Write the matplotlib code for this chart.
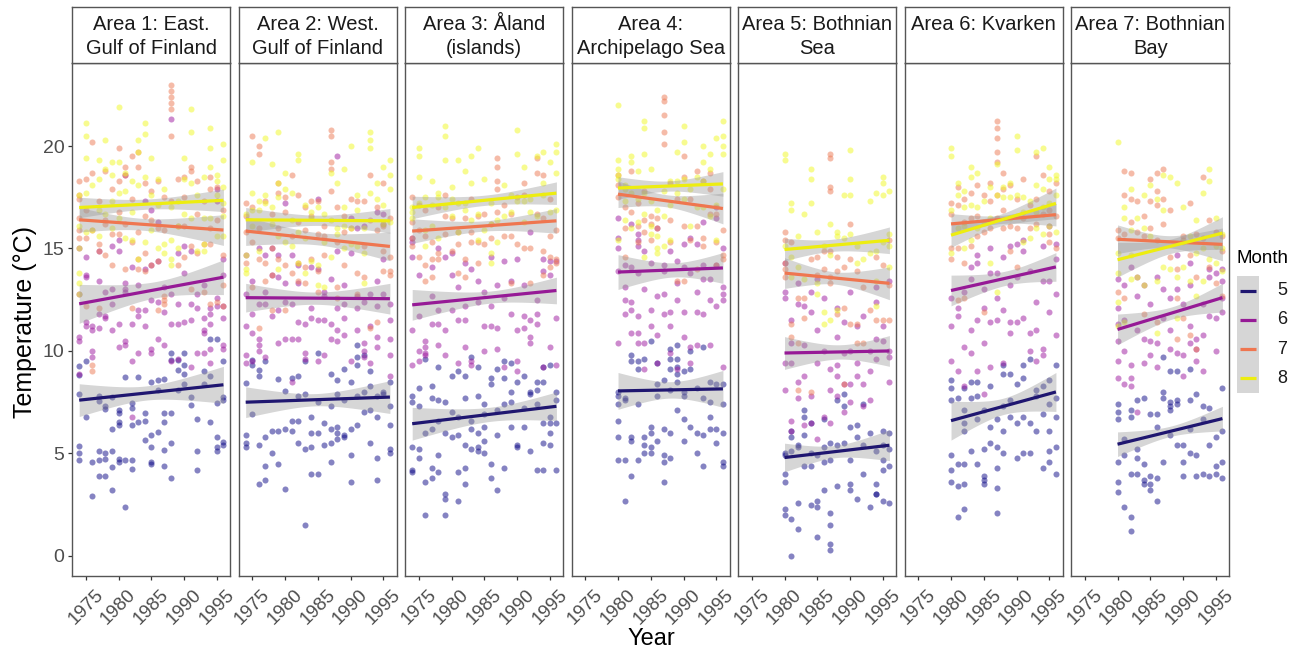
import numpy as np
import matplotlib
matplotlib.use("Agg")
import matplotlib.pyplot as plt
from matplotlib.patches import Rectangle

plt.rcParams['font.family'] = ['Liberation Sans', 'DejaVu Sans']

# ---------------- data ----------------
AREAS = ["Area 1: East.\nGulf of Finland", "Area 2: West.\nGulf of Finland",
         "Area 3: Åland\n(islands)", "Area 4:\nArchipelago Sea",
         "Area 5: Bothnian\nSea", "Area 6: Kvarken", "Area 7: Bothnian\nBay"]
MONTHS = [5, 6, 7, 8]
MONTH_COLORS = ["#0D0887", "#9C179E", "#ED7953", "#F0F921"]
LINE_COLORS = ["#1f1670", "#961a96", "#EF7650", "#EDED10"]
FIRST_YEAR = [1974, 1974, 1974, 1980, 1980, 1980, 1980]
LAST_YEAR = 1996
X_TICKS = [1975, 1980, 1985, 1990, 1995]
Y_TICKS = [0, 5, 10, 15, 20]

# temperatures per year (one sub-list per year, starting at FIRST_YEAR)
A1_M5 = [[7.9, 5.35, 5.0, 4.7, 9.25, 8.85], [6.8, 9.5], [4.6, 2.9], [5.1, 4.7, 3.9, 7.8, 7.55],
         [5.0, 4.75, 3.9, 7.15, 7.3], [5.1, 4.35, 3.2, 6.2, 7.75], [4.75, 4.6, 6.55, 6.4, 7.1, 6.95],
         [2.4, 4.7, 8.75], [4.7, 4.25, 7.2, 6.4, 7.45], [6.55, 8.75], [5.65, 6.6, 6.95],
         [5.9, 5.3, 4.6, 4.5, 8.5], [6.05, 8.6, 8.1], [5.15, 4.4, 6.55, 6.95, 8.65],
         [3.8, 5.5, 6.95, 9.55, 9.9], [9.05, 9.55, 8.1], [9.9, 9.3, 8.9, 8.4], [7.75, 7.35],
         [4.2, 5.1, 6.7], [9.0, 8.4], [6.55, 10.6, 8.8], [5.8, 5.3, 5.1, 10.6, 7.45],
         [5.55, 5.4, 9.5, 7.75, 7.6]]
A1_M6 = [[10.5, 10.7, 8.9, 12.8, 15.0], [13.6, 13.7, 11.4, 11.2, 14.6], [11.0, 11.2, 10.0, 9.7],
         [13.4, 11.8, 11.1, 14.9], [11.6, 11.7, 12.9], [11.0, 13.0, 12.3, 15.1], [11.3, 10.2, 14.9, 15.4],
         [10.5, 10.3, 13.3, 13.0, 12.9, 18.6], [11.3, 9.5, 6.8, 14.1], [9.9, 13.2, 12.0, 11.7],
         [12.0, 11.2, 14.0, 17.3], [14.2, 12.5, 10.1, 9.9, 16.9], [10.6, 14.4, 12.4, 16.3],
         [10.3, 11.9, 13.1], [21.3, 11.3, 9.5, 12.8], [11.3, 9.6, 12.3, 14.8], [13.8, 11.4, 15.1],
         [9.2, 12.3, 11.5, 14.9], [12.1, 9.9, 12.8], [11.6, 11.0, 10.9, 9.9, 13.2],
         [11.3, 11.8, 12.1, 9.4, 10.1], [12.2, 12.6, 17.3, 17.9], [10.3, 10.1, 11.6, 12.2, 13.7, 14.5]]
A1_M7 = [[18.3, 17.6, 16.5, 15.5, 15.9, 17.4], [18.4, 15.5, 16.9, 12.2], [20.2, 18.7, 15.9, 9.3, 9.0],
         [17.3, 15.2, 14.9, 12.1], [18.8, 16.4, 16.2, 14.7], [17.9, 15.7, 14.2], [19.9, 18.3, 16.8, 15.7],
         [19.0, 18.6, 16.2, 14.0], [19.5, 17.4, 15.3, 12.1], [19.7, 19.0, 15.8, 14.5, 14.0],
         [18.2, 16.6, 14.8, 13.9], [17.8, 16.4, 14.2], [18.3, 16.0, 14.4, 12.0],
         [17.5, 15.9, 12.3, 12.5, 12.7], [23.0, 22.7, 22.4, 22.1, 21.8, 20.5, 17.3], [18.4, 16.1, 14.2],
         [18.5, 17.5, 16.1, 14.6], [19.0, 18.8, 15.1, 13.0], [18.3, 16.7, 14.8], [17.3, 15.2, 12.9],
         [18.5, 17.9, 16.0, 15.2, 12.3], [18.0, 16.4, 12.4], [16.9, 14.7, 13.2, 12.2]]
A1_M8 = [[17.6, 15.0, 13.8, 13.3, 12.8, 16.1], [21.1, 20.5, 19.4, 17.7, 15.8], [18.1, 15.9],
         [19.3, 18.4, 16.9, 15.6], [20.3, 18.9, 16.7], [19.2, 18.6, 17.3, 16.0], [21.9, 19.2, 17.7, 16.5],
         [18.7, 17.8, 15.5], [18.3, 16.8, 15.4], [20.3, 19.7, 18.1, 14.5], [21.1, 20.6, 15.3, 18.5],
         [19.4, 17.6, 15.9], [18.4, 17.1, 15.0], [17.9, 15.2, 14.8], [17.0, 15.4, 14.5, 14.2],
         [17.3, 16.1, 15.0], [19.4, 18.4, 16.7], [21.8, 20.7, 18.2, 16.5], [17.6, 14.9],
         [18.5, 16.5, 15.2, 14.9], [20.9, 19.9, 19.0, 16.5], [18.6, 18.3, 17.6, 15.6],
         [20.1, 19.3, 18.0, 17.2, 16.6, 15.6]]

A2_M5 = [[8.45, 5.9, 5.5, 5.3], [6.9, 9.3, 9.55], [5.4, 3.5, 9.05, 8.8], [5.8, 4.4, 3.7, 9.5],
         [5.0, 6.1], [6.1, 4.5, 8.65], [3.25, 8.05, 6.2], [6.6, 6.1, 8.7], [7.8, 8.8, 6.6, 5.5],
         [1.5, 5.2, 7.9, 9.5], [5.3, 6.0, 6.8, 4.0], [4.0, 6.0, 7.5, 9.9], [5.4, 6.5],
         [6.2, 7.3, 5.5, 4.6, 8.9], [5.7, 6.0, 6.3, 7.9, 8.6], [5.8, 5.9, 7.6, 9.1], [6.2, 3.6, 4.9, 8.5],
         [6.4, 7.8, 9.3, 9.7, 10.3], [7.0, 8.0, 9.8], [9.0, 8.3, 5.5, 7.1], [7.8, 6.8, 4.8, 3.7],
         [8.0, 7.9], [8.5, 6.4, 5.0, 5.2, 7.3]]
A2_M6 = [[9.8, 9.4, 11.2, 12.8, 14.7], [11.8, 10.9, 9.5, 13.4], [10.0, 10.3, 10.6, 12.3, 15.0],
         [12.9, 12.3, 9.7, 14.7], [13.7, 11.7, 15.0], [14.7, 13.6, 12.0, 10.4], [10.6, 13.3, 12.4, 17.2],
         [8.5, 10.6, 12.3, 14.7], [11.4, 10.6, 13.3, 14.2], [9.6, 9.9, 11.3], [12.1, 11.6, 14.1],
         [14.0, 11.5, 9.5, 17.4], [12.7, 12.9, 9.8, 11.5], [11.3, 10.6, 13.5],
         [19.5, 14.9, 11.0, 10.5, 12.1], [10.8, 12.3, 11.6, 13.2], [14.8, 9.5, 16.5],
         [12.7, 12.1, 11.0, 16.0], [10.4, 10.0, 9.7, 12.4, 16.1], [9.4, 12.8, 11.2],
         [12.2, 10.2, 10.7, 13.4, 16.8], [12.8, 14.5, 16.2, 16.7], [12.3, 11.5, 10.6, 9.8, 8.8]]
A2_M7 = [[17.2, 16.6, 15.8, 14.3], [20.5, 17.0, 15.3, 13.1], [20.0, 19.6, 16.0, 14.5, 11.1],
         [17.3, 14.3, 13.4], [16.7, 15.0, 13.7, 12.0], [18.2, 17.7, 16.0, 14.5], [17.5, 16.8, 14.2, 12.0],
         [18.6, 15.6, 13.8], [17.6, 16.3, 14.3, 13.4], [17.0, 15.9, 14.1, 13.3], [17.3, 16.6, 14.5],
         [17.3, 15.7, 13.9, 12.9], [16.1, 15.6, 14.7], [20.8, 20.5, 19.2, 18.9, 17.8],
         [17.0, 15.3, 13.1, 12.6], [16.6, 15.8, 14.2], [17.4, 16.0], [17.3, 13.8, 12.8],
         [17.3, 15.1, 13.6], [18.6, 16.4, 11.1], [17.0, 15.9, 11.4], [18.2, 16.1, 14.9, 13.9],
         [16.5, 14.6, 13.9, 13.7]]
A2_M8 = [[16.7, 14.7, 14.0, 13.8], [19.2, 17.7, 16.1, 16.9], [17.3, 16.9, 14.9], [20.4, 17.6, 17.2],
         [19.1, 16.2, 17.0], [20.7, 18.2, 17.5, 15.6, 14.0], [18.7, 17.9, 15.3], [17.7, 16.4, 15.1],
         [19.3, 19.6, 15.8, 14.3], [17.1, 15.5, 13.8], [16.8, 16.5, 14.4], [17.0, 14.2, 13.2],
         [16.7, 15.3, 13.1], [18.7, 16.4, 14.6], [18.2, 16.0, 15.7], [18.9, 17.0, 16.1, 15.0],
         [20.0, 16.0, 15.2], [17.6, 16.9, 15.1], [16.0, 14.8, 13.3], [20.7, 20.3, 19.9, 17.7],
         [18.2, 17.4], [19.0, 17.1, 16.2], [19.3, 18.6, 17.9, 16.3]]

A3_M5 = [[5.3, 4.2, 4.1, 7.5, 7.8], [8.2, 5.2, 4.8, 7.3], [2.0, 3.6, 9.6, 6.0], [7.7, 6.2, 8.3, 4.3, 3.8],
         [7.6, 4.9, 4.1, 6.6, 9.2], [2.0, 2.8, 3.0, 6.0, 7.5], [5.8, 7.0, 8.8], [6.8, 5.9, 2.7, 4.1, 9.0],
         [7.7, 5.4, 4.3, 3.5, 8.8], [6.2, 5.2, 9.7, 6.6], [5.3, 5.1, 6.0, 7.8, 9.2],
         [5.0, 5.6, 6.9, 6.3, 7.4], [4.5, 3.8, 8.4, 8.7], [3.2, 7.1, 5.9, 9.1], [4.3, 7.4, 8.7, 9.5],
         [7.5, 8.0, 9.4, 6.3], [5.3, 5.4, 8.5], [7.2, 6.3, 8.8], [7.9, 8.0, 5.1], [4.2, 7.4, 8.1, 8.5],
         [4.2, 6.5, 5.5, 8.5, 9.2], [5.4, 6.0, 6.5, 6.8, 9.3], [4.2, 7.6, 6.5, 8.0]]
A3_M6 = [[11.0, 9.3, 15.5, 15.3, 14.6], [13.7, 11.7, 9.5, 10.0], [10.5, 10.2, 9.8, 9.9],
         [11.3, 12.7, 14.1], [15.0, 12.0, 11.3, 10.3], [14.6, 11.0, 9.8], [14.8, 12.0, 13.7],
         [13.1, 11.5, 9.4], [14.3, 12.2, 11.5, 10.2], [14.0, 9.5, 9.3], [13.4, 12.4],
         [12.9, 11.2, 10.0], [14.6, 12.2, 11.2], [13.2, 11.1, 10.1], [14.4, 12.6, 9.2], [13.4, 11.8],
         [14.5, 11.0, 9.5, 9.0], [13.2, 11.7, 11.1], [15.8, 11.5, 10.7, 10.4], [12.5, 11.8, 11.3],
         [14.5, 13.9, 9.2], [14.4, 13.7, 10.2], [14.4, 11.6, 9.3]]
A3_M7 = [[15.5, 15.1, 17.5, 16.3], [15.9, 14.6, 17.1], [15.6, 14.2, 13.4, 16.9], [15.3, 14.5, 13.6],
         [17.0, 14.5, 14.8], [17.6, 16.6, 15.7], [16.5, 14.9], [15.8, 13.8, 15.2], [16.5, 14.5, 13.6],
         [17.4, 15.8, 15.3], [16.6, 15.3, 14.3], [16.7, 15.2], [16.2, 15.5],
         [19.4, 19.0, 18.3, 17.9, 16.8], [17.1, 15.6], [16.7, 15.6, 13.3], [17.5, 15.2],
         [18.2, 17.6, 15.0], [15.0, 13.3], [19.4, 18.7, 16.7], [18.6, 16.5, 14.9, 13.7],
         [17.4, 15.6, 14.6, 14.1], [15.9, 14.5, 14.3]]
A3_M8 = [[16.5, 16.8, 17.0], [19.9, 19.5, 18.5, 17.2], [17.5, 15.9, 15.1], [18.3, 17.1, 16.1],
         [17.7, 17.5, 15.5], [21.0, 20.5, 19.3, 17.0], [18.0, 17.4, 16.6], [19.3, 17.2, 15.8],
         [18.8, 17.2, 16.9], [19.5, 18.2, 16.4], [19.9, 16.7, 15.4], [18.4, 15.9],
         [17.2, 16.2, 14.8, 14.3], [16.4, 15.3], [18.1, 16.6], [17.6, 16.8], [20.8, 19.6, 17.3],
         [19.0, 17.3, 16.3], [17.4, 16.8], [19.5, 16.6], [19.7, 18.2, 17.6], [19.2, 16.8],
         [20.1, 19.7, 18.7, 16.9]]

A4_M5 = [[8.0, 7.8, 7.4, 6.6, 4.7, 5.8], [2.7, 4.7, 7.6, 7.7], [3.9, 5.8, 5.6, 9.8, 9.5],
         [4.7, 7.4, 9.1, 9.5], [5.0, 5.4, 5.8, 9.6], [5.0, 5.3, 6.0, 6.3, 10.5], [5.6, 7.8, 9.4, 8.4],
         [3.6, 4.6, 4.9, 6.2, 8.6], [4.8, 6.0, 9.1, 9.6, 10.1, 8.1], [7.1, 8.5, 8.9, 9.2, 9.6, 10.3],
         [5.6, 6.7, 7.8, 9.0, 8.0], [6.3, 9.1, 10.0], [5.0, 6.0, 8.2], [4.4, 5.9, 7.7, 10.2],
         [6.2, 6.8, 7.5, 8.5], [5.5, 6.2, 8.4], [4.4, 4.6, 6.0, 7.4, 8.4]]
A4_M6 = [[10.4, 13.9, 15.0, 15.5, 16.5], [12.5, 13.1, 11.8, 14.2], [12.4, 12.0, 10.9, 14.1, 16.2],
         [11.7, 10.9, 10.4, 13.8, 15.7, 15.4, 15.1], [9.1, 10.4, 13.0, 14.9], [12.0, 11.2, 14.3],
         [10.8, 9.4, 12.7, 16.0], [11.8, 12.8, 13.9, 14.2], [11.2, 11.9, 9.9, 14.9],
         [9.1, 12.5, 13.3, 14.4], [11.9, 10.7, 14.1, 15.2], [9.4, 10.2, 13.8, 15.5],
         [10.3, 11.9, 12.9, 15.2], [11.8, 13.5, 14.2, 16.3], [10.3, 12.5, 13.5],
         [12.2, 14.2, 16.5, 17.0], [9.2, 12.5, 12.8, 13.1, 15.0]]
A4_M7 = [[18.1, 18.6, 17.5], [17.0, 16.0, 14.6], [18.8, 16.8], [17.2, 16.1, 15.3], [17.8, 16.4, 15.8],
         [16.6, 16.2, 15.4], [16.5, 16.0], [22.4, 22.2, 21.5, 20.7, 20.1], [18.2, 16.4, 15.3],
         [17.4, 13.4], [19.5, 18.5, 16.1, 13.4], [17.4, 15.4], [18.8, 16.1, 14.0], [18.3, 15.5, 15.1],
         [18.7, 17.9, 16.7], [16.7, 15.3, 14.2], [15.9, 14.7, 14.5]]
A4_M8 = [[22.0, 19.3, 18.9, 18.6, 18.4, 15.4], [18.1, 17.9, 17.3, 16.4], [19.5, 19.2, 17.7, 16.0],
         [18.8, 17.4, 16.3], [21.2, 20.9, 19.6, 17.7, 16.7, 14.6], [18.9, 17.3, 16.1, 15.7],
         [16.9, 15.6, 15.0, 14.8], [17.8, 16.6, 15.1], [18.3, 17.1, 15.4], [19.7, 18.3, 17.7],
         [21.0, 20.2, 18.4, 17.4], [17.9, 16.1], [18.5, 17.0], [20.0, 19.2, 18.3, 17.0],
         [19.6, 18.9, 16.6], [20.4, 17.1, 15.4], [21.2, 20.5, 20.0, 19.6, 17.9]]

A5_M5 = [[5.0, 3.6, 2.3, 2.0, 4.9, 4.0], [0.0, 1.8, 5.1, 5.8, 6.1], [5.4, 5.3, 2.6, 1.3],
         [5.9, 4.4, 7.1, 6.8], [4.4, 2.5, 5.0, 6.5], [0.9, 2.7, 2.4, 4.9], [3.2, 5.3, 6.7, 4.6],
         [1.5, 0.3, 0.6, 2.1, 4.7, 5.5], [3.4, 5.4, 7.6], [5.5, 7.3, 7.9], [3.5, 3.2, 6.3, 4.7],
         [2.8, 5.8, 6.4], [4.0, 5.4, 7.4], [2.4, 6.0], [3.0, 3.0, 5.1, 3.5], [2.7, 4.2, 4.7, 5.4, 6.1],
         [2.6, 4.4, 5.2, 6.0]]
A5_M6 = [[12.9, 12.6, 8.1, 9.4, 14.3], [11.5, 9.4, 6.6, 6.1, 10.4], [8.5, 7.7, 13.3, 12.3],
         [8.8, 10.3, 6.4, 12.2], [11.9, 7.8, 6.5, 12.9], [9.4, 13.5, 11.0, 5.7], [12.6, 10.0, 6.8],
         [9.1, 8.1, 6.5], [12.1, 10.7, 9.3, 8.8, 7.8], [11.4, 9.9, 8.4, 7.0], [12.9, 10.0, 8.4, 7.5],
         [11.2, 9.4, 8.8], [11.7, 8.4, 7.3], [10.0, 9.0, 7.6], [13.1, 12.4, 10.6, 9.6], [11.2, 10.5],
         [10.0, 9.7, 8.5, 13.4]]
A5_M7 = [[15.8, 14.3, 14.0, 13.6, 15.4], [15.3, 11.3, 10.7], [12.6, 10.4, 8.1], [12.6, 11.6],
         [14.5, 8.0], [14.6, 13.7], [14.9, 14.0], [19.6, 19.4, 18.0, 17.8, 14.9, 13.6, 13.3],
         [14.6, 13.9, 11.8], [14.1, 12.1, 8.4], [16.2, 14.5, 11.3], [13.9, 11.3, 10.4], [13.1, 10.4],
         [12.0], [14.6, 11.5], [14.2, 11.5], [15.4, 13.2, 11.5]]
A5_M8 = [[19.6, 19.3, 15.1], [17.2, 16.9, 14.6, 13.6], [15.6, 14.1], [16.7, 13.5], [18.9, 18.4, 17.2],
         [15.8, 13.3, 12.8], [15.1, 11.9, 11.3], [16.2, 14.7, 11.5], [15.8, 15.6, 12.0], [17.6, 15.5],
         [19.8, 18.4, 17.6, 15.7], [15.1, 14.3], [14.5], [17.3, 14.8], [17.7, 14.9, 13.4, 12.2],
         [18.5, 18.2, 17.6, 15.3], [17.8, 15.7, 15.1, 14.1]]

A6_M5 = [[8.6, 8.2, 4.9, 4.2, 3.6, 7.6], [7.7, 4.5, 1.9, 3.4], [6.1, 6.5, 7.1, 8.2, 4.5, 3.5, 2.3],
         [8.5, 7.7, 5.1], [8.5, 7.8, 6.7, 4.5], [3.5, 3.7, 3.9, 5.2, 7.1], [5.5, 6.3, 8.3],
         [2.1, 3.3, 4.3, 5.3, 6.7], [9.3, 6.1, 5.0, 8.9, 7.3], [7.6, 8.9, 6.8], [4.8, 6.5, 8.4],
         [5.0, 6.8, 8.7, 9.3], [6.5, 5.0, 9.6], [6.1, 7.8, 8.1], [4.3, 6.9, 8.3],
         [4.6, 5.1, 6.1, 7.4, 8.6], [4.0, 5.3, 6.8, 7.7, 9.3]]
A6_M6 = [[12.6, 11.2, 9.5], [12.1, 11.7, 9.0], [12.9, 10.2, 8.3], [14.1, 13.5, 11.0, 9.9],
         [14.7, 14.3, 11.5, 9.0], [13.0, 12.1, 10.4, 7.9], [15.0, 13.8, 11.4, 9.2], [13.8, 12.6, 11.5],
         [14.6, 12.0, 9.4], [15.1, 13.2, 11.4, 10.9], [15.2, 13.6, 11.4], [15.4, 14.9, 11.6],
         [13.9, 10.9, 10.0], [12.4, 11.0, 9.5], [15.1, 13.4, 10.1, 9.8], [16.1, 13.4, 11.9],
         [15.2, 14.5, 12.8, 10.8]]
A6_M7 = [[17.2, 16.7, 15.0, 14.5], [18.0, 17.1, 15.0, 12.5], [17.4, 16.3, 14.3, 12.6],
         [17.7, 16.5, 15.1], [18.1, 16.6, 15.6], [17.6, 15.8, 11.9], [18.2, 17.3, 16.0],
         [21.2, 20.9, 20.4, 19.7, 19.2, 17.6, 16.5], [18.7, 17.9, 16.9, 16.0], [18.1, 16.1, 14.9],
         [17.4, 16.0, 14.1], [18.4, 16.5], [17.1, 16.0], [19.5, 17.4, 16.2], [18.6, 16.7],
         [17.8, 16.9, 15.7, 15.3], [18.2, 16.6, 15.0]]
A6_M8 = [[19.9, 19.5, 16.9, 14.8], [18.2, 17.6, 16.0], [17.8, 17.0, 16.1, 15.0], [19.0, 18.5, 17.1, 15.4],
         [18.7, 17.0, 16.0], [17.3, 16.3], [18.0, 16.5, 14.3], [19.1, 17.6, 12.9], [18.0, 17.5],
         [18.2, 17.5, 16.5], [20.5, 19.8, 17.6], [17.5, 16.8, 15.3], [17.3, 15.5],
         [19.7, 18.1, 16.8, 16.0], [19.9, 17.9, 17.0, 15.7], [19.0, 18.4, 17.2, 16.1],
         [18.6, 18.4, 17.6, 15.8]]

A7_M5 = [[7.4, 7.0, 6.7, 4.6, 3.6, 3.1], [4.9, 2.4, 5.7], [1.2, 1.9, 4.0, 6.8, 7.1], [4.0, 4.8, 7.6, 5.2],
         [3.7, 3.5, 4.5, 7.7], [3.9, 3.2, 3.5, 6.9], [2.7, 3.8, 6.3, 6.9], [4.6, 7.7, 8.0, 9.7],
         [7.3, 7.5, 7.1, 9.0, 5.9], [7.6, 9.0, 7.4, 5.4], [4.6, 5.4, 3.9], [6.2, 7.6, 9.1, 5.0],
         [4.9, 3.9, 7.9], [6.7, 4.0, 7.3], [5.4, 3.9, 7.2], [4.4, 4.0, 5.8], [3.8, 4.6, 6.1, 8.2]]
A7_M6 = [[13.5, 12.1, 11.3, 10.5, 9.5, 8.7], [11.5, 10.0, 8.4, 13.2], [9.3, 8.3, 8.7, 14.1],
         [13.6, 12.7, 11.0, 7.0], [13.2, 10.6, 9.4], [12.3, 10.5, 9.8], [13.6, 10.4, 9.2], [13.0, 11.6],
         [12.6, 11.0, 10.1], [14.7, 13.0, 9.9], [12.3, 9.8, 8.8], [14.3, 13.2, 11.2, 10.4],
         [10.6, 10.1, 9.5], [12.3, 10.8, 9.0], [14.0, 13.6, 11.7], [13.8, 11.6, 10.0],
         [14.0, 13.4, 12.6, 11.9]]
A7_M7 = [[15.9, 15.5, 12.9], [18.8, 17.6, 15.7, 12.6], [18.7, 17.4, 16.3], [17.3, 15.8],
         [16.6, 15.6, 11.8], [18.4, 17.3, 16.0], [18.7, 17.8, 17.1, 15.4, 11.4], [18.9, 17.4, 16.2],
         [16.9, 14.6], [14.0, 12.6, 10.6], [15.6, 15.4, 11.6], [17.2, 14.7, 10.8], [15.7, 13.6, 10.1],
         [18.5, 15.5], [16.4, 14.1], [15.8, 13.3], [15.6, 14.9, 12.7]]
A7_M8 = [[20.2, 14.8, 13.8, 12.4, 11.2], [17.0, 16.5, 11.4], [17.9, 15.9, 14.7, 13.5], [16.5, 13.6],
         [17.6, 16.0, 13.2], [18.1, 15.6], [17.4, 13.4, 10.9], [18.6, 16.9, 14.1], [18.5, 14.0],
         [18.2, 13.6, 11.6], [17.0, 15.3, 14.1], [15.6, 13.4], [16.4, 14.8, 12.7], [17.7, 15.0, 13.4],
         [18.9, 18.3, 14.5], [16.5, 15.1, 14.3], [15.7, 15.0, 13.9]]

POINTS = [[A1_M5, A1_M6, A1_M7, A1_M8], [A2_M5, A2_M6, A2_M7, A2_M8],
          [A3_M5, A3_M6, A3_M7, A3_M8], [A4_M5, A4_M6, A4_M7, A4_M8],
          [A5_M5, A5_M6, A5_M7, A5_M8], [A6_M5, A6_M6, A6_M7, A6_M8],
          [A7_M5, A7_M6, A7_M7, A7_M8]]

# fitted linear trends (value at first and last year) per area, months 5..8
TREND_START = [[7.6, 12.3, 16.4, 17.0], [7.5, 12.6, 15.85, 16.4], [6.45, 12.25, 15.85, 17.0],
               [8.05, 13.85, 17.65, 17.95], [4.8, 9.9, 13.8, 14.95], [6.6, 12.95, 16.2, 15.65],
               [5.45, 11.05, 15.45, 14.45]]
TREND_END = [[8.35, 13.6, 15.9, 17.35], [7.75, 12.55, 15.1, 16.35], [7.3, 12.95, 16.35, 17.7],
             [8.15, 14.05, 16.95, 18.15], [5.4, 10.0, 13.3, 15.4], [8.0, 14.1, 16.65, 17.2],
             [6.7, 12.6, 15.2, 15.75]]
# confidence band half-widths at start, middle, end
BAND_START = [[0.8, 0.95, 0.6, 0.5], [0.75, 0.7, 0.7, 0.6], [0.8, 0.75, 0.6, 0.55],
              [0.9, 0.85, 0.65, 0.55], [0.7, 0.8, 0.75, 0.55], [0.95, 0.75, 0.5, 0.6],
              [0.6, 0.75, 0.7, 0.85]]
BAND_MID = [[0.35, 0.4, 0.3, 0.25], [0.3, 0.3, 0.3, 0.25], [0.35, 0.3, 0.25, 0.25],
            [0.4, 0.35, 0.3, 0.25], [0.3, 0.35, 0.3, 0.3], [0.4, 0.35, 0.2, 0.3],
            [0.25, 0.3, 0.3, 0.35]]
BAND_END = [[0.9, 0.85, 0.75, 0.55], [0.8, 0.75, 0.7, 0.6], [0.7, 0.65, 0.6, 0.55],
            [0.9, 0.75, 0.75, 0.6], [0.75, 0.75, 0.8, 0.65], [0.95, 0.7, 0.55, 0.75],
            [0.6, 0.7, 0.8, 0.8]]

# ---------------- layout ----------------
W, H = 1298, 654
fig = plt.figure(figsize=(W / 100, H / 100), dpi=100)
fig.patch.set_facecolor("white")

BORDER = "#555555"
PANEL_TOP, PANEL_BOTTOM, STRIP_TOP = 63, 576, 7
PANEL_W, PANEL_STEP, PANEL_X0 = 158, 166.5, 72.3


def fx(px):
    return px / W


def fy(py):
    return 1 - py / H


for i, area in enumerate(AREAS):
    left = PANEL_X0 + PANEL_STEP * i
    ax = fig.add_axes([fx(left), fy(PANEL_BOTTOM), PANEL_W / W, (PANEL_BOTTOM - PANEL_TOP) / H])
    y0 = FIRST_YEAR[i]
    for m, col in enumerate(MONTH_COLORS):
        xs, ys = [], []
        for j, vals in enumerate(POINTS[i][m]):
            xs.extend([y0 + j] * len(vals))
            ys.extend(vals)
        ax.scatter(xs, ys, s=19, color=col, alpha=0.5, linewidths=0, zorder=2)
    for m, col in enumerate(LINE_COLORS):
        x = np.linspace(y0, LAST_YEAR, 80)
        t = (x - y0) / (LAST_YEAR - y0)
        fit = TREND_START[i][m] + (TREND_END[i][m] - TREND_START[i][m]) * t
        s2, m2, e2 = BAND_START[i][m] ** 2, BAND_MID[i][m] ** 2, BAND_END[i][m] ** 2
        var = s2 * (2 * (t - 0.5) * (t - 1)) + m2 * (-4 * t * (t - 1)) + e2 * (2 * t * (t - 0.5))
        hw = np.sqrt(np.clip(var, 0, None))
        ax.fill_between(x, fit - hw, fit + hw, color="#999999", alpha=0.4, linewidth=0, zorder=3)
        ax.plot(x, fit, color=col, lw=2.3, zorder=4, solid_capstyle="butt")

    ax.set_xlim(1972.95, 1997.05)
    ax.set_ylim(-0.98, 24.05)
    ax.set_xticks(X_TICKS)
    ax.set_xticklabels([str(v) for v in X_TICKS], rotation=45, ha="center", va="top")
    ax.set_yticks(Y_TICKS)
    if i == 0:
        ax.set_yticklabels([str(v) for v in Y_TICKS])
    else:
        ax.tick_params(axis="y", left=False, labelleft=False)
    ax.tick_params(axis="both", direction="out", length=3.2, width=0.9, color="#333333",
                   labelcolor="#4d4d4d")
    ax.tick_params(axis="x", pad=4, labelsize=13.5)
    ax.tick_params(axis="y", pad=2.5, labelsize=14)
    for sp in ax.spines.values():
        sp.set_color(BORDER)
        sp.set_linewidth(1.0)

    # strip
    sax = fig.add_axes([fx(left), fy(PANEL_TOP), PANEL_W / W, (PANEL_TOP - STRIP_TOP) / H])
    sax.set_xticks([])
    sax.set_yticks([])
    sax.set_xlim(0, 1)
    sax.set_ylim(0, 1)
    for sp in sax.spines.values():
        sp.set_color(BORDER)
        sp.set_linewidth(1.0)
    lines = area.split("\n")
    for k, line in enumerate(lines):
        ypx = 25 + 23 * k
        sax.text(0.5, (PANEL_TOP - ypx) / (PANEL_TOP - STRIP_TOP), line, ha="center", va="center",
                 fontsize=14.5, color="#1a1a1a")

# axis titles
fig.text(fx(25), fy(322), "Temperature (°C)", rotation=90, ha="center", va="center", fontsize=18)
fig.text(fx(651), fy(639), "Year", ha="center", va="center", fontsize=17)

# legend
fig.text(fx(1237), fy(258), "Month", ha="left", va="center", fontsize=13.5)
key_top, key_h = 276, 29.25
lax = fig.add_axes([fx(1237), fy(key_top + 4 * key_h), 22 / W, 4 * key_h / H])
lax.set_xlim(0, 1)
lax.set_ylim(0, 4)
lax.axis("off")
lax.add_patch(Rectangle((0, 0), 1, 4, facecolor="#999999", alpha=0.4, linewidth=0))
for k, (mon, col) in enumerate(zip(MONTHS, LINE_COLORS)):
    yc = 4 - k - 0.5
    lax.plot([0.12, 0.88], [yc, yc], color=col, lw=2.3, solid_capstyle="butt")
    fig.text(fx(1277), fy(key_top + key_h * (k + 0.5)), str(mon), ha="left", va="center",
             fontsize=13, color="#1a1a1a")

fig.savefig("out.png", dpi=100)
